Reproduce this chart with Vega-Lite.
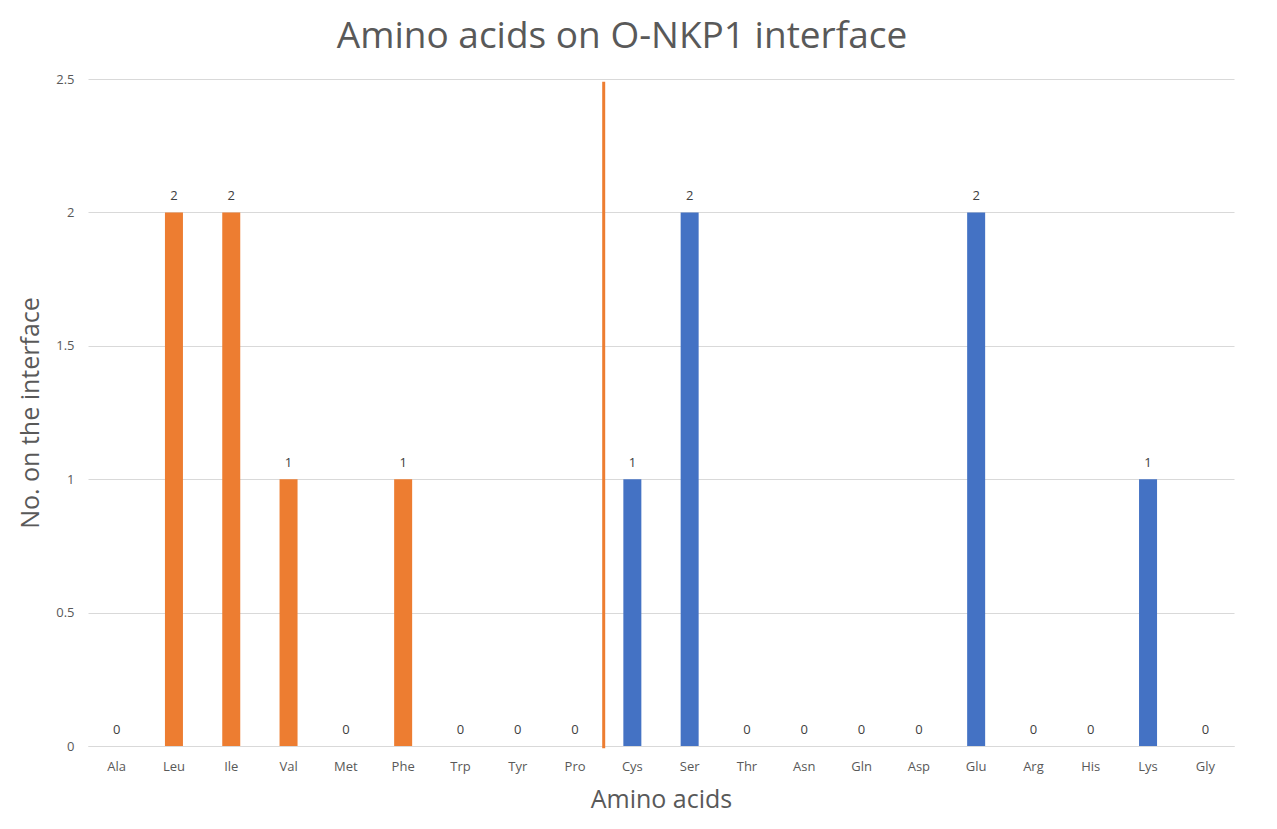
{
  "$schema": "https://vega.github.io/schema/vega-lite/v6.json",
  "width": 1146,
  "height": 667,
  "autosize": "none",
  "padding": {"left": 88, "top": 79, "right": 43, "bottom": 83},
  "background": "white",
  "config": {
    "view": {"stroke": null},
    "font": "Open Sans"
  },
  "title": {
    "text": "Amino acids on O-NKP1 interface",
    "fontSize": 37,
    "fontWeight": "normal",
    "color": "#595959",
    "font": "Open Sans",
    "anchor": "middle",
    "dx": -39,
    "offset": 17
  },
  "data": {
    "values": [
      {"aa": "Ala", "n": 0, "group": "hydrophobic"},
      {"aa": "Leu", "n": 2, "group": "hydrophobic"},
      {"aa": "Ile", "n": 2, "group": "hydrophobic"},
      {"aa": "Val", "n": 1, "group": "hydrophobic"},
      {"aa": "Met", "n": 0, "group": "hydrophobic"},
      {"aa": "Phe", "n": 1, "group": "hydrophobic"},
      {"aa": "Trp", "n": 0, "group": "hydrophobic"},
      {"aa": "Tyr", "n": 0, "group": "hydrophobic"},
      {"aa": "Pro", "n": 0, "group": "hydrophobic"},
      {"aa": "Cys", "n": 1, "group": "other"},
      {"aa": "Ser", "n": 2, "group": "other"},
      {"aa": "Thr", "n": 0, "group": "other"},
      {"aa": "Asn", "n": 0, "group": "other"},
      {"aa": "Gln", "n": 0, "group": "other"},
      {"aa": "Asp", "n": 0, "group": "other"},
      {"aa": "Glu", "n": 2, "group": "other"},
      {"aa": "Arg", "n": 0, "group": "other"},
      {"aa": "His", "n": 0, "group": "other"},
      {"aa": "Lys", "n": 1, "group": "other"},
      {"aa": "Gly", "n": 0, "group": "other"}
    ]
  },
  "encoding": {
    "x": {
      "field": "aa",
      "type": "nominal",
      "sort": null,
      "scale": {"paddingInner": 0, "paddingOuter": 0},
      "axis": {
        "title": "Amino acids",
        "titleFontSize": 25,
        "titleFontWeight": "normal",
        "titleColor": "#595959",
        "titlePadding": 14,
        "labelAngle": 0,
        "labelFontSize": 13,
        "labelColor": "#595959",
        "labelPadding": 14,
        "ticks": false,
        "domainColor": "#d9d9d9",
        "domainWidth": 1
      }
    },
    "y": {
      "field": "n",
      "type": "quantitative",
      "scale": {"domain": [0, 2.5], "nice": false},
      "axis": {
        "title": "No. on the interface",
        "titleFontSize": 25,
        "titleFontWeight": "normal",
        "titleColor": "#595959",
        "titlePadding": 12,
        "values": [0, 0.5, 1, 1.5, 2, 2.5],
        "format": ".1~f",
        "labelFontSize": 13,
        "labelColor": "#595959",
        "labelPadding": 14,
        "ticks": false,
        "domain": false,
        "gridColor": "#d9d9d9"
      }
    }
  },
  "layer": [
    {
      "mark": {"type": "bar", "size": 18},
      "encoding": {
        "color": {
          "field": "group",
          "type": "nominal",
          "scale": {"domain": ["hydrophobic", "other"], "range": ["#ED7D31", "#4472C4"]},
          "legend": null
        }
      }
    },
    {
      "mark": {"type": "text", "dy": -16, "fontSize": 13, "color": "#404040"},
      "encoding": {"text": {"field": "n", "type": "quantitative"}}
    },
    {
      "data": {"values": [{"aa": "Pro", "top": 2.49, "bottom": -0.008}]},
      "mark": {"type": "rule", "color": "#ED7D31", "strokeWidth": 3},
      "encoding": {
        "x": {"field": "aa", "type": "nominal", "bandPosition": 1},
        "y": {"field": "top", "type": "quantitative"},
        "y2": {"field": "bottom"}
      }
    }
  ]
}
